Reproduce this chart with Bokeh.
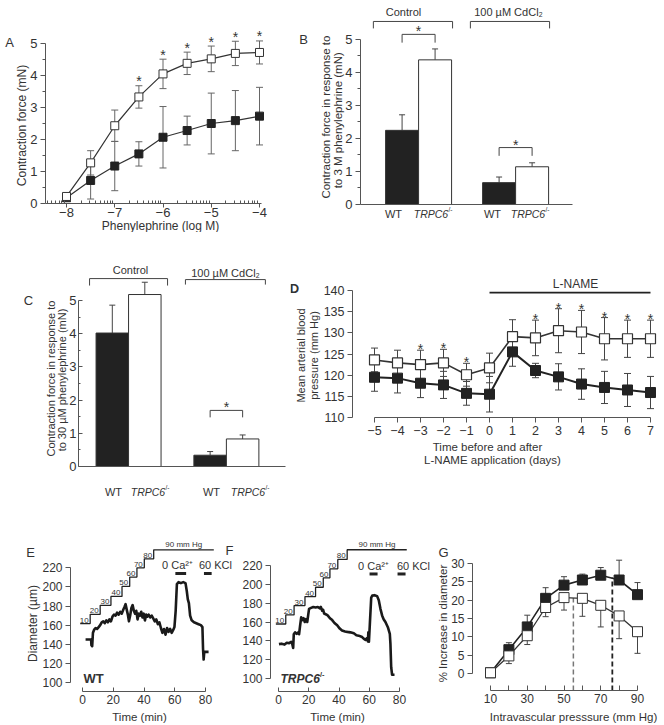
from math import log10, pi
from bokeh.plotting import figure
from bokeh.models import Range1d, FixedTicker, Label, LinearAxis
from bokeh.layouts import row, column
from bokeh.embed import file_html
from bokeh.resources import INLINE
from bokeh.core.properties import value

FONT = "Liberation Sans"
INK = "#222222"
TXT = "#333333"
AXC = "#555555"
ERRC = "#666666"

# ---------------- data ----------------
# Panel A: concentration-response (log M)
A_logc = [-8, -7.5, -7, -6.5, -6, -5.5, -5, -4.5, -4]
A_wt = [0.18, 0.72, 1.17, 1.55, 2.07, 2.28, 2.50, 2.59, 2.73]
A_wt_err = [0.04, 0.58, 0.77, 0.38, 0.96, 0.45, 0.95, 0.94, 0.90]
A_ko = [0.22, 1.27, 2.43, 3.33, 4.05, 4.38, 4.52, 4.69, 4.72]
A_ko_err = [0.04, 0.38, 0.49, 0.35, 0.46, 0.35, 0.40, 0.38, 0.36]
A_sig = [False, False, False, True, True, True, True, True, True]

# Panels B and C: bars (WT, TRPC6-/-) x (Control, CdCl2)
groups = ["Control", "100 \u00b5M CdCl\u2082"]
genotypes = ["WT", "TRPC6"]
B_vals = [2.24, 4.37, 0.66, 1.14]
B_err = [0.47, 0.33, 0.17, 0.12]
B_sig = [True, True]
C_vals = [4.02, 5.18, 0.34, 0.83]
C_err = [0.84, 0.37, 0.11, 0.12]
C_sig = [False, True]

# Panel D: blood pressure
D_days = [-5, -4, -3, -2, -1, 0, 1, 2, 3, 4, 5, 6, 7]
D_ko = [123.6, 122.9, 122.5, 122.9, 120.1, 121.7, 129.1, 128.8, 130.5, 130.2, 128.6, 128.6, 128.6]
D_ko_err = [2.8, 3.0, 3.4, 3.2, 2.7, 3.5, 4.0, 4.2, 5.2, 5.1, 5.0, 4.4, 4.4]
D_wt = [119.5, 119.3, 118.1, 117.7, 115.7, 115.5, 125.5, 121.1, 119.6, 117.9, 117.1, 116.5, 115.9]
D_wt_err = [3.3, 3.5, 3.4, 3.2, 2.8, 4.2, 3.4, 1.7, 3.1, 3.6, 3.8, 3.9, 3.8]
D_sig = [False, False, True, True, True, False, False, True, True, True, True, True, True]
D_lname_start = 0

# Panels E and F: diameter traces (time min, diameter um)
E_trace = [(2.0, 145), (5.6, 145), (5.8, 139), (6.3, 138), (6.8, 152), (7.5, 155), (8.5, 157),
           (9.5, 156), (10.5, 158), (11.5, 160), (12.5, 163), (13.5, 164), (14.5, 162), (15.5, 165),
           (16.5, 163), (17.5, 166), (18.5, 164), (19.5, 169), (20.5, 171), (21.5, 170), (22.5, 173),
           (23.5, 171), (24.5, 174), (25.5, 172), (26.5, 176), (27.3, 179), (28.0, 182), (28.8, 176),
           (29.5, 171), (30.2, 164), (31.0, 170), (31.8, 178), (32.6, 181), (33.4, 175), (34.2, 172),
           (35.0, 175), (35.8, 166), (36.6, 172), (37.4, 170), (38.2, 174), (39.0, 168), (39.8, 172),
           (40.6, 165), (41.4, 171), (42.2, 169), (43.0, 171), (44.0, 168), (45.0, 170), (46.0, 167),
           (47.0, 164), (48.0, 166), (49.0, 161), (50.0, 163), (51.0, 157), (52.0, 152), (53.0, 156),
           (54.0, 150), (55.0, 157), (56.0, 153), (57.0, 156), (58.0, 152), (59.0, 155), (59.8, 158),
           (60.6, 175), (61.4, 203), (62.5, 205), (64.0, 204), (65.5, 205), (67.0, 204), (67.8, 196),
           (68.5, 187), (69.2, 183), (70.0, 170), (71.0, 165), (72.5, 163), (74.0, 162), (75.5, 161),
           (77.0, 160), (78.0, 158), (78.4, 135), (78.8, 124), (79.2, 132), (82.0, 132)]
F_trace = [(0.3, 136.5), (2.0, 137), (4.0, 136), (5.5, 138), (7.0, 137.5), (8.4, 139), (9.2, 136),
           (9.7, 132.5), (10.1, 147), (11.0, 149), (12.0, 147.5), (13.0, 149), (13.6, 147), (14.2, 155),
           (15.0, 165), (15.8, 162), (16.6, 164), (17.4, 160), (18.2, 163), (19.0, 160), (19.6, 167),
           (20.2, 174), (21.5, 175), (23.0, 176), (24.5, 175.5), (26.0, 176), (27.2, 174.5), (28.0, 176),
           (28.9, 172), (29.5, 173), (30.2, 169), (31.5, 168), (32.5, 167), (34.0, 164), (35.5, 162),
           (37.0, 159), (38.8, 156.5), (40.5, 153), (42.0, 151), (44.0, 150), (45.5, 149.5), (47.5, 149),
           (49.8, 148), (51.5, 146), (53.0, 145.5), (55.3, 144), (56.5, 142), (57.5, 141), (58.5, 143),
           (59.1, 139.5), (59.4, 149), (59.8, 139), (60.4, 158), (61.3, 186), (62.0, 188), (63.5, 188.5),
           (65.2, 187.5), (66.3, 183), (67.4, 174), (68.5, 167), (69.5, 163), (70.7, 160), (72.3, 154.5),
           (73.6, 147.5), (74.0, 137), (74.5, 112), (75.1, 104), (76.7, 104)]
# pressure protocol drawn above the traces (step edges in min, step heights in axis units)
press_labels = ["10", "20", "30", "40", "50", "60", "70", "80", "90 mm Hg"]
E_step_t = [-1.5, 5.0, 11.5, 18.5, 25.7, 30.7, 35.4, 40.2, 46.3, 85.4]
E_step_y = [161.6, 171.3, 180.7, 190.1, 200.5, 210.3, 220.0, 229.4, 238.8]
F_step_t = [-1.75, 4.8, 10.3, 17.5, 24.5, 29.6, 34.0, 39.2, 45.4, 84.8]
F_step_y = [157.9, 167.5, 177.4, 187.0, 196.9, 206.9, 216.5, 226.4, 236.7]
E_ca0 = (60.4, 67.4)
E_kcl = (79.0, 84.0)
E_bar_y = 214
F_ca0 = (60.2, 65.5)
F_kcl = (78.7, 84.0)
F_bar_y = 211

# Panel G: myogenic response
G_press = [10, 20, 30, 40, 50, 60, 70, 80, 90]
G_wt = [0.2, 6.5, 12.7, 20.5, 24.1, 25.5, 26.8, 25.5, 21.5]
G_wt_err = [0.0, 1.9, 3.2, 2.9, 2.3, 1.6, 2.1, 5.4, 3.3]
G_ko = [0.2, 4.8, 10.3, 18.0, 20.7, 20.5, 18.6, 15.7, 11.4]
G_ko_err = [0.0, 2.1, 2.4, 2.5, 3.4, 4.9, 5.9, 6.2, 5.9]
G_peak_ko = (55.1, 20.6)
G_peak_wt = (76.3, 26.2)


# ---------------- helpers ----------------
def make_panel(box, xmap, ymap):
    """box: canvas (x0, y0, x1, y1) in page pixels; xmap/ymap: (pixel, value, pixel, value)."""
    X0, Y0, X1, Y1 = box
    kx = (xmap[3] - xmap[1]) / (xmap[2] - xmap[0])
    ky = (ymap[3] - ymap[1]) / (ymap[2] - ymap[0])

    def fx(px):
        return xmap[1] + (px - xmap[0]) * kx

    def fy(py):
        return ymap[1] + (py - ymap[0]) * ky

    p = figure(width=X1 - X0, height=Y1 - Y0,
               x_range=Range1d(fx(X0), fx(X1)), y_range=Range1d(fy(Y1), fy(Y0)),
               min_border=0, min_border_left=0, min_border_right=0,
               min_border_top=0, min_border_bottom=0,
               x_axis_location=None, y_axis_location=None,
               output_backend="svg", toolbar_location=None, tools="")
    p.title.visible = False
    p.grid.visible = False
    p.outline_line_color = None
    p.background_fill_color = "white"
    p.border_fill_color = "white"

    def conv(xi, yi):
        return fx(xi), fy(yi)
    return p, conv, fx, fy, 1.0 / abs(ky)


def add_axis(p, side, loc, ticks, minor=(), bounds="auto", fs="13px", out=4, tin=0,
             mout=2, min_in=0, overrides=None, standoff=3):
    ax = LinearAxis(fixed_location=loc)
    ax.ticker = FixedTicker(ticks=list(ticks), minor_ticks=list(minor))
    ax.bounds = bounds
    ax.axis_line_color = AXC
    ax.axis_line_width = 1
    ax.major_tick_line_color = AXC
    ax.major_tick_out = out
    ax.major_tick_in = tin
    ax.minor_tick_line_color = AXC if len(minor) else None
    ax.minor_tick_out = mout
    ax.minor_tick_in = min_in
    ax.major_label_text_font = FONT
    ax.major_label_text_font_size = fs
    ax.major_label_text_color = TXT
    ax.major_label_standoff = standoff
    if overrides:
        ax.major_label_overrides = overrides
    p.add_layout(ax, side)
    return ax


def lab(p, conv, xi, yi, text, size="11px", align="center", baseline="middle",
        angle=0, style="normal", color=TXT):
    x, y = conv(xi, yi)
    p.add_layout(Label(x=x, y=y, text=text, text_font=FONT, text_font_size=size,
                       text_align=align, text_baseline=baseline, angle=angle,
                       text_font_style=style, text_color=color))


def errbars(p, x, y, err, up=True, down=True, color=ERRC, cap=7, width=1):
    lo = [yy - e if down else yy for yy, e in zip(y, err)]
    hi = [yy + e if up else yy for yy, e in zip(y, err)]
    p.segment(x0=list(x), y0=lo, x1=list(x), y1=hi, line_color=color, line_width=width)
    cx, cy = [], []
    if up:
        cx += list(x); cy += hi
    if down:
        cx += list(x); cy += lo
    p.scatter(cx, cy, marker="dash", size=cap, line_color=color, line_width=width)


def stars(p, xs, ys, ppu, px_above, size="14px"):
    p.text(x=list(xs), y=[y + px_above / ppu for y in ys], text=["*"] * len(xs),
           text_font=value(FONT), text_font_size=size, text_color=TXT,
           text_align="center", text_baseline="middle", y_offset=4)


def ko_label(p, conv, xc, yc, size=10.5, bold=False):
    w = 3.0 * size
    style = "bold italic" if bold else "italic"
    lab(p, conv, xc - (w + 8) / 2, yc, "TRPC6", size=f"{size}px", align="left", style=style)
    lab(p, conv, xc - (w + 8) / 2 + w + 1, yc - size * 0.35, "-/-", size=f"{size * 0.62:.1f}px",
        align="left", style="bold" if bold else "normal")


# ---------------- Panel A ----------------
pA, cA, fxA, fyA, uA = make_panel((0, 0, 290, 232), (66, -8, 259, -4), (203, 0, 43, 5))
minorA = [d + log10(k) for d in (-9, -8, -7, -6, -5) for k in range(2, 10)
          if fxA(46) < d + log10(k) < -4]
add_axis(pA, "below", 0, [-8, -7, -6, -5, -4], minor=minorA, bounds=(fxA(45), fxA(261)),
         out=4, mout=0, min_in=3, standoff=0)
add_axis(pA, "left", fxA(45), range(0, 6), minor=[0.5, 1.5, 2.5, 3.5, 4.5], bounds=(0, 5),
         out=5, mout=3)
errbars(pA, A_logc, A_wt, A_wt_err)
errbars(pA, A_logc, A_ko, A_ko_err)
pA.line(A_logc, A_wt, line_color="#333333", line_width=1.2)
pA.line(A_logc, A_ko, line_color="#333333", line_width=1.2)
pA.scatter(A_logc, A_wt, marker="square", size=8, fill_color=INK, line_color=INK)
pA.scatter(A_logc, A_ko, marker="square", size=8, fill_color="white", line_color="#333333", line_width=1)
sx = [x for x, s in zip(A_logc, A_sig) if s]
sy = [y + e for y, e, s in zip(A_ko, A_ko_err, A_sig) if s]
stars(pA, sx, sy, uA, 8.5)
lab(pA, cA, 9, 42, "A", size="13px")
lab(pA, cA, 21, 125, "Contraction force (mN)", size="12px", angle=pi / 2)
lab(pA, cA, 160, 225, "Phenylephrine (log M)", size="12px")

# ---------------- Panel B ----------------
pB, cB, fxB, fyB, uB = make_panel((290, 0, 662, 232), (360, 0, 393, 1), (204, 0, 38.5, 5))
add_axis(pB, "below", 0, [], bounds=(0, fxB(572)), out=0)
add_axis(pB, "left", 0, range(0, 6), minor=[0.5, 1.5, 2.5, 3.5, 4.5], bounds=(0, 5), out=5, mout=3)
B_gc = [1.76, 4.70]
B_x = [B_gc[0] - 0.5, B_gc[0] + 0.5, B_gc[1] - 0.5, B_gc[1] + 0.5]
fills = [INK, "white", INK, "white"]
errbars(pB, B_x, B_vals, B_err, down=False, color="#444444", cap=6)
pB.vbar(x=B_x, top=B_vals, bottom=0, width=1, fill_color=fills, line_color="#333333", line_width=1)
for gc, txt, tx in zip(B_gc, groups, [403, 508]):
    x0, x1 = gc - 1.37, gc + 1.03
    pB.line([x0, x0, x1, x1], [5.32, 5.53, 5.53, 5.32], line_color="#444444", line_width=1)
    lab(pB, cB, tx, 11, txt, size="11px")
for gi, top in zip([0, 1], [5.14, 1.72]):
    if B_sig[gi]:
        x0, x1 = B_x[2 * gi], B_x[2 * gi + 1]
        pB.line([x0, x0, x1, x1], [top - 0.25, top, top, top - 0.25], line_color="#444444", line_width=1)
        stars(pB, [(x0 + x1) / 2], [top], uB, 7)
for xc, g in zip([393, 433, 492, 530], genotypes * 2):
    if g == "WT":
        lab(pB, cB, xc, 213, "WT", size="11px")
    else:
        ko_label(pB, cB, xc, 213)
lab(pB, cB, 303, 39, "B", size="13px")
lab(pB, cB, 325, 115, "Contraction force  in response to", size="11.5px", angle=pi / 2)
lab(pB, cB, 337, 115, "to 3   M phenylephrine  (mN)", size="11.5px", angle=pi / 2)

# ---------------- Panel C ----------------
pC, cC, fxC, fyC, uC = make_panel((0, 232, 290, 498), (78, 0, 110.5, 1), (466, 0, 300, 5))
add_axis(pC, "below", 0, [], bounds=(0, fxC(285)), out=0)
add_axis(pC, "left", 0, range(0, 6), minor=[0.5, 1.5, 2.5, 3.5, 4.5], bounds=(0, 5),
         out=0, tin=4, mout=0, min_in=2, standoff=2)
C_gc = [1.54, 4.55]
C_x = [C_gc[0] - 0.5, C_gc[0] + 0.5, C_gc[1] - 0.5, C_gc[1] + 0.5]
errbars(pC, C_x, C_vals, C_err, down=False, color="#444444", cap=6)
pC.vbar(x=C_x, top=C_vals, bottom=0, width=1, fill_color=fills, line_color="#333333", line_width=1)
for gc, txt, (dl, dr, top, leg), (tx, ty) in zip(C_gc, groups,
                                                  [(-1.2, 1.2, 5.66, 5.45), (-1.26, 1.2, 5.63, 5.48)],
                                                  [(130, 269), (225, 272)]):
    pC.line([gc + dl, gc + dl, gc + dr, gc + dr], [leg, top, top, leg], line_color="#444444", line_width=1)
    lab(pC, cC, tx, ty, txt, size="11px")
for gi, top in zip([0, 1], [5.9, 1.69]):
    if C_sig[gi]:
        x0, x1 = C_x[2 * gi], C_x[2 * gi + 1]
        pC.line([x0, x0, x1, x1], [top - 0.21, top, top, top - 0.21], line_color="#444444", line_width=1)
        stars(pC, [(x0 + x1) / 2], [top], uC, 7)
for xc, g in zip([113, 150, 211, 250], genotypes * 2):
    if g == "WT":
        lab(pC, cC, xc, 491, "WT", size="11px")
    else:
        ko_label(pC, cC, xc, 491)
lab(pC, cC, 28, 300, "C", size="13px")
lab(pC, cC, 50, 378, "Contraction force in response to", size="11px", angle=pi / 2)
lab(pC, cC, 61, 378, "to 30 \u00b5M phenylephrine  (mN)", size="11px", angle=pi / 2)

# ---------------- Panel D ----------------
pD, cD, fxD, fyD, uD = make_panel((290, 232, 662, 498), (374, -5, 650, 7), (417, 110, 290, 140))
add_axis(pD, "below", 110, D_days, bounds=(-5, 7), fs="12.5px", out=5)
add_axis(pD, "left", fxD(352), range(110, 141, 5), bounds=(110, 140), fs="12.5px", out=5)
errbars(pD, D_days, D_wt, D_wt_err, color="#444444", cap=7)
errbars(pD, D_days, D_ko, D_ko_err, color="#444444", cap=7)
pD.line(D_days, D_wt, line_color=INK, line_width=2)
pD.line(D_days, D_ko, line_color="#333333", line_width=1.6)
pD.scatter(D_days, D_wt, marker="square", size=10, fill_color=INK, line_color=INK)
pD.scatter(D_days, D_ko, marker="square", size=10, fill_color="white", line_color="#333333", line_width=1.2)
sx = [x for x, s in zip(D_days, D_sig) if s]
sy = [y + e for y, e, s in zip(D_ko, D_ko_err, D_sig) if s]
stars(pD, sx, sy, uD, 5)
pD.line([D_lname_start, D_days[-1]], [139.5, 139.5], line_color=INK, line_width=1.6)
lab(pD, cD, 575, 283, "L-NAME", size="12px")
lab(pD, cD, 294, 288, "D", size="13px", style="bold")
lab(pD, cD, 300, 355, "Mean arterial blood", size="11px", angle=pi / 2)
lab(pD, cD, 313, 355, "pressure (mm Hg)", size="11px", angle=pi / 2)
lab(pD, cD, 487, 446, "Time before and after", size="11.5px")
lab(pD, cD, 492, 459, "L-NAME application (days)", size="11.5px")


# ---------------- Panels E, F ----------------
def trace_panel(box, xmap, ymap, yaxis_px, xaxis_px, trace, step_t, step_y, ca0, kcl, bar_y):
    p, conv, fx, fy, ppu = make_panel(box, xmap, ymap)
    add_axis(p, "below", fy(xaxis_px), [0, 20, 40, 60, 80], bounds=(0, 80), fs="12px", out=0, tin=4)
    add_axis(p, "left", fx(yaxis_px), range(100, 221, 20), bounds=(100, 220), fs="12px", out=5)
    xs, ys = [], []
    for i, lvl in enumerate(step_y):
        xs += [step_t[i], step_t[i + 1]]
        ys += [lvl, lvl]
    p.line(xs, ys, line_color=INK, line_width=1.3)
    p.text(x=step_t[1:9], y=step_y[:8], text=press_labels[:8], text_font=value(FONT),
           text_font_size="8px", text_color=TXT, text_align="right", text_baseline="bottom",
           x_offset=-1.5, y_offset=-1)
    p.text(x=[(step_t[8] + step_t[9]) / 2], y=[step_y[8]], text=[press_labels[8]],
           text_font=value(FONT), text_font_size="8px", text_color=TXT, text_align="center",
           text_baseline="bottom", y_offset=-1)
    p.segment(x0=[ca0[0], kcl[0]], y0=[bar_y, bar_y], x1=[ca0[1], kcl[1]], y1=[bar_y, bar_y],
              line_color=INK, line_width=3)
    t, d = zip(*trace)
    p.line(list(t), list(d), line_color="#1a1a1a", line_width=2.6, line_join="round")
    return p, conv


pE, cE = trace_panel((0, 498, 240, 723), (82, 0, 205, 80), (567.3, 220, 682, 100), 70, 691,
                     E_trace, E_step_t, E_step_y, E_ca0, E_kcl, E_bar_y)
lab(pE, cE, 30, 552, "E", size="13px")
lab(pE, cE, 229, 550, "F", size="13px")
lab(pE, cE, 32, 623, "Diameter (\u00b5m)", size="12px", angle=pi / 2)
lab(pE, cE, 139, 716, "Time (min)", size="11.5px")
lab(pE, cE, 83, 678, "WT", size="13px", align="left", style="bold")
lab(pE, cE, 177, 564, "0 Ca\u00b2\u207a", size="11px")
lab(pE, cE, 215, 564, "60 KCl", size="11px")

pF, cF = trace_panel((240, 498, 433, 723), (278, 0, 399, 80), (565, 220, 678, 100), 270, 691,
                     F_trace, F_step_t, F_step_y, F_ca0, F_kcl, F_bar_y)
lab(pF, cF, 373, 565, "0 Ca\u00b2\u207a", size="11px")
lab(pF, cF, 413, 565, "60 KCl", size="11px")
lab(pF, cF, 337, 716, "Time (min)", size="11.5px")
ko_label(pF, cF, 302, 678, size=12, bold=True)

# ---------------- Panel G ----------------
pG, cG, fxG, fyG, uG = make_panel((433, 498, 662, 723), (490, 10, 637, 90), (673, 0, 563, 30))
yb = fyG(690)
add_axis(pG, "below", yb, G_press, bounds=(10, 90), fs="12px", out=0, tin=5,
         overrides={20: "", 40: "", 60: "", 80: ""})
add_axis(pG, "left", fxG(472), range(0, 31, 5), bounds=(0, 30), fs="12px", out=5)
pG.segment(x0=[G_peak_ko[0]], y0=[yb], x1=[G_peak_ko[0]], y1=[G_peak_ko[1]],
           line_color="#777777", line_width=1.5, line_dash="5 3")
pG.segment(x0=[G_peak_wt[0]], y0=[yb], x1=[G_peak_wt[0]], y1=[G_peak_wt[1]],
           line_color=INK, line_width=1.8, line_dash="5 3")
errbars(pG, G_press[1:], G_wt[1:], G_wt_err[1:], down=False, color="#444444", cap=6)
errbars(pG, G_press[1:], G_ko[1:], G_ko_err[1:], up=False, color="#444444", cap=6)
pG.line(G_press, G_wt, line_color=INK, line_width=1.6)
pG.line(G_press, G_ko, line_color="#333333", line_width=1.3)
pG.scatter(G_press, G_wt, marker="square", size=10, fill_color=INK, line_color=INK)
pG.scatter(G_press, G_ko, marker="square", size=10, fill_color="white", line_color="#333333", line_width=1)
lab(pG, cG, 443, 552, "G", size="13px")
lab(pG, cG, 442, 623, "% Increase in diameter", size="11.5px", angle=pi / 2)
lab(pG, cG, 573, 716, "Intravascular presssure (mm Hg)", size="11.5px")

layout = column(row(pA, pB), row(pC, pD), row(pE, pF, pG))
open("out.html", "w").write(file_html(layout, INLINE))
